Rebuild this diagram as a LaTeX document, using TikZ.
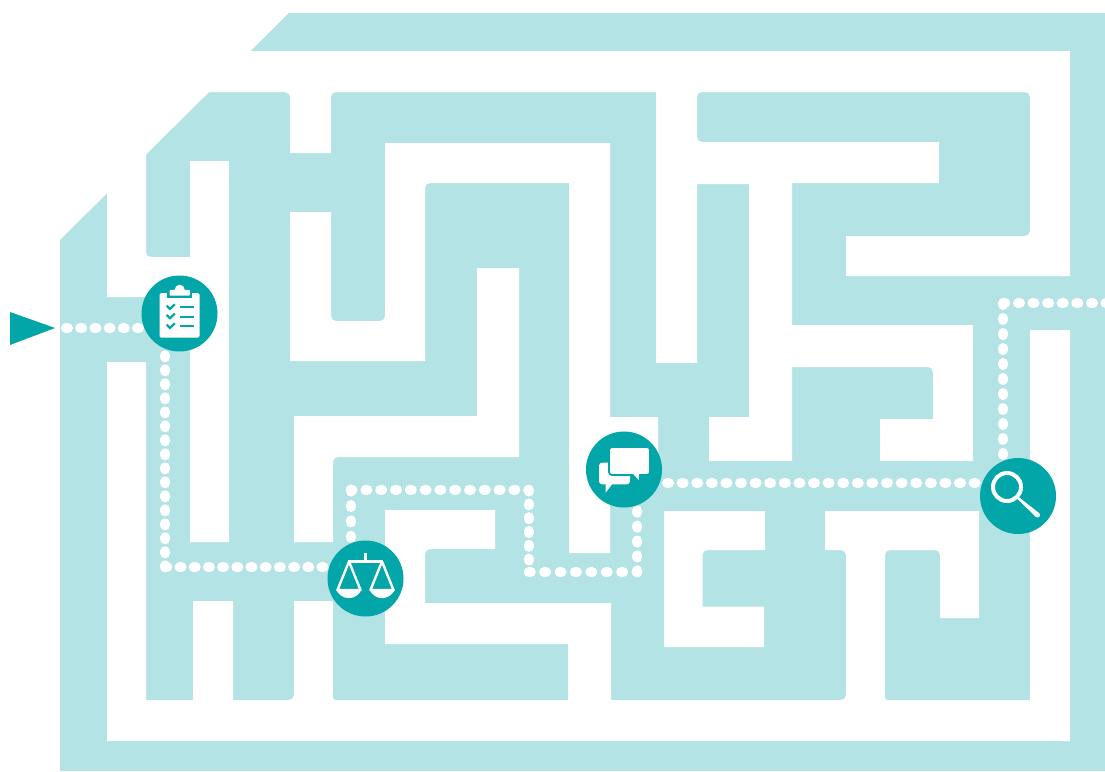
\documentclass[tikz,border=0pt]{standalone}
\usetikzlibrary{backgrounds}
\definecolor{MazeLight}{HTML}{B3E3E4}
\definecolor{StopTeal}{HTML}{02A5A8}
\tikzset{
  maze/.style={fill=MazeLight},
  corridor/.style={fill=white},
  rc/.style={rounded corners=5pt},
  stopdot/.style={circle,fill=StopTeal,minimum size=76pt,inner sep=0pt},
  trail/.style={draw=white,line width=10pt,line cap=round,dash pattern=on 2pt off #1},
  icon/.style={fill=white},
  iconline/.style={draw=white,line width=2.4pt},
  tickline/.style={draw=StopTeal,line width=2.2pt}
}
\begin{document}
\begin{tikzpicture}[x=1pt,y=-1pt]
  \useasboundingbox (0,0) rectangle (1105,771);
  % stops along the way
  \node[stopdot] (checklist) at (179.5,313.5) {};
  \node[stopdot] (scales) at (365.5,578.5) {};
  \node[stopdot] (chat) at (624,469.5) {};
  \node[stopdot] (search) at (1018,496) {};
  \coordinate (entry) at (66,328.3);
  \coordinate (bendA) at (165.3,567.3);
  \coordinate (bendB) at (350.6,489.6);
  \coordinate (bendC) at (528.7,489.6);
  \coordinate (bendD) at (528.7,572.3);
  \coordinate (bendE) at (637.4,572.3);
  \coordinate (leave) at (667,483);
  \coordinate (bendF) at (1003.3,303);
  \coordinate (exit) at (1112,303);
  \begin{scope}[on background layer]
    \fill[maze] (60,771) -- (60,240) -- (289,13) -- (1105,13) -- (1105,771) -- cycle;
    % top corridor
    \fill[corridor] (240,51) -- (1070,51) -- (1070,276) -- (846,276) -- (846,236)
      [rc] -- (1030,236) -- (1030,92) -- (697,92) -- (697,142) [sharp corners] -- (939,142) -- (939,183)
      -- (792,183) -- (792,325) -- (973,325) -- (973,461) -- (880,461) -- (880,419) -- (933,419)
      [rc] -- (933,367) [sharp corners] -- (792,367) -- (792,461) -- (709,461) -- (709,417) -- (749,417)
      -- (749,184) -- (697,184) -- (697,363) -- (656,363) -- (656,92) [rc] -- (331,92) [sharp corners]
      -- (331,153) -- (290,153) [rc] -- (290,92) [sharp corners] -- (198,92) -- cycle;
    % left entrance
    \fill[corridor] (97,193) -- (107,193) -- (107,297) -- (190,297) -- (190,542) -- (229,542)
      -- (229,161) -- (190,161) -- (190,257) [rc] -- (146,257) [sharp corners] -- (146,155) -- (136,155) -- cycle;
    % middle corridors
    \fill[corridor] (290,212) -- (331,212) [rc] -- (331,321) -- (385,321) [sharp corners] -- (385,143)
      -- (610,143) -- (610,417) -- (658,417) -- (658,470) -- (610,470) -- (610,553) -- (569,553)
      -- (569,183) [rc] -- (425,183) [sharp corners] -- (425,361) -- (290,361) -- cycle;
    \fill[corridor] (477,268) -- (519,268) -- (519,457) [rc] -- (333,457) [sharp corners] -- (333,542)
      -- (294,542) -- (294,416) -- (477,416) -- cycle;
    % pocket under the speech bubbles
    \fill[corridor] (664,511) -- (765,511) -- (765,550) [rc] -- (702.5,550) [sharp corners]
      -- (702.5,606.5) -- (764,606.5) -- (764,647) -- (664,647) -- cycle;
    % outer corridor along the bottom
    \fill[corridor] (107,362) -- (146,362) -- (146,700) -- (193,700) -- (193,601) -- (233,601) -- (233,700)
      [rc] -- (294,700) [sharp corners] -- (294,601) -- (333,601) [rounded corners=2.5pt] -- (333,700) [sharp corners] -- (568,700)
      -- (568,644) -- (385,644) -- (385,510) -- (495,510) -- (495,549) [rc] -- (425,549) [sharp corners]
      -- (425,603) -- (611,603) -- (611,700) [rc] -- (846,700) -- (846,550) [sharp corners]
      -- (825,550) -- (825,511) -- (979,511) -- (979,618) -- (940,618) [rc] -- (940,550) -- (885,550)
      [rounded corners=2.5pt] -- (885,700) [sharp corners] -- (1030,700) -- (1030,330) -- (1070,330)
      -- (1070,741) -- (107,741) -- cycle;
    % dotted way through
    \draw[trail=12.2pt] (entry) -- (entry -| checklist);
    \draw[trail=12pt] (bendA) -- (bendA |- checklist);
    \draw[trail=12.2pt] (bendA) -- (bendA -| scales);
    \draw[trail=13.4pt] (bendB) -- (bendB |- scales);
    \draw[trail=12.8pt] (bendB) -- (bendC);
    \draw[trail=11.8pt] (bendC) -- (bendD);
    \draw[trail=13.4pt] (bendD) -- (bendE);
    \draw[trail=12.9pt] (bendE) -- (bendE |- chat);
    \draw[trail=12.6pt] (leave) -- (leave -| search);
    \draw[trail=13pt] (bendF) -- (bendF |- search);
    \draw[trail=12.6pt] (bendF) -- (exit);
  \end{scope}
  \fill[StopTeal] (10,312) -- (55,328) -- (10,345) -- cycle;
  % clipboard
  \begin{scope}[shift={(checklist)}]
    \fill[icon,rounded corners=1.5pt] (-20,-20.3) rectangle (20,24);
    \fill[StopTeal] (-12.5,-22) rectangle (12.5,-15.7);
    \fill[icon] (0.2,-23.8) circle (5);
    \fill[icon,rounded corners=1pt] (-10,-23.7) rectangle (10.5,-18);
    \foreach \y in {-6.3,3,12.7} {
      \draw[tickline] (-12.8,\y-1.6) -- (-9.6,\y+1.8) -- (-4.6,\y-3);
      \draw[tickline,line width=2pt] (0.3,\y) -- (14.3,\y);
    }
  \end{scope}
  % balance
  \begin{scope}[shift={(scales)}]
    \draw[iconline] (-17.5,-17) -- (17.5,-17);
    \draw[iconline,line width=3pt] (0,-25.5) -- (0,-17);
    \foreach \s in {-1,1} {
      \draw[iconline,line join=round] (\s*16.5,-17) -- (\s*28,11.5) -- (\s*5,11.5) -- cycle;
      \fill[icon] (\s*29.5,11) .. controls (\s*24,22.5) and (\s*9,22.5) .. (\s*4,11) -- cycle;
    }
  \end{scope}
  % speech bubbles
  \begin{scope}[shift={(chat)}]
    \fill[icon] (-18.3,23.2) -- (-18.3,13) -- (-10.7,13) -- cycle;
    \fill[icon,rounded corners=3pt] (-25,-6.8) rectangle (6,14.8);
    \filldraw[fill=white,draw=StopTeal,line width=1.8pt] (-15,-18.5) [rounded corners=3pt] -- (-15,-22.5) -- (26,-22.5)
      -- (26,5.5) [sharp corners] -- (16,5.5) -- (16,13.5) -- (8.7,5.5) [rounded corners=3pt] -- (-15,5.5) [sharp corners] -- cycle;
  \end{scope}
  % magnifying glass
  \begin{scope}[shift={(search)}]
    \draw[iconline,line width=4pt] (-11,-9) circle (14);
    \fill[icon] (-1.3,2.3) -- (0.3,0.7) -- (21.2,17.2) -- (17.8,20.8) -- cycle;
    \fill[icon] (19.5,19) circle (2.5);
  \end{scope}
\end{tikzpicture}
\end{document}
